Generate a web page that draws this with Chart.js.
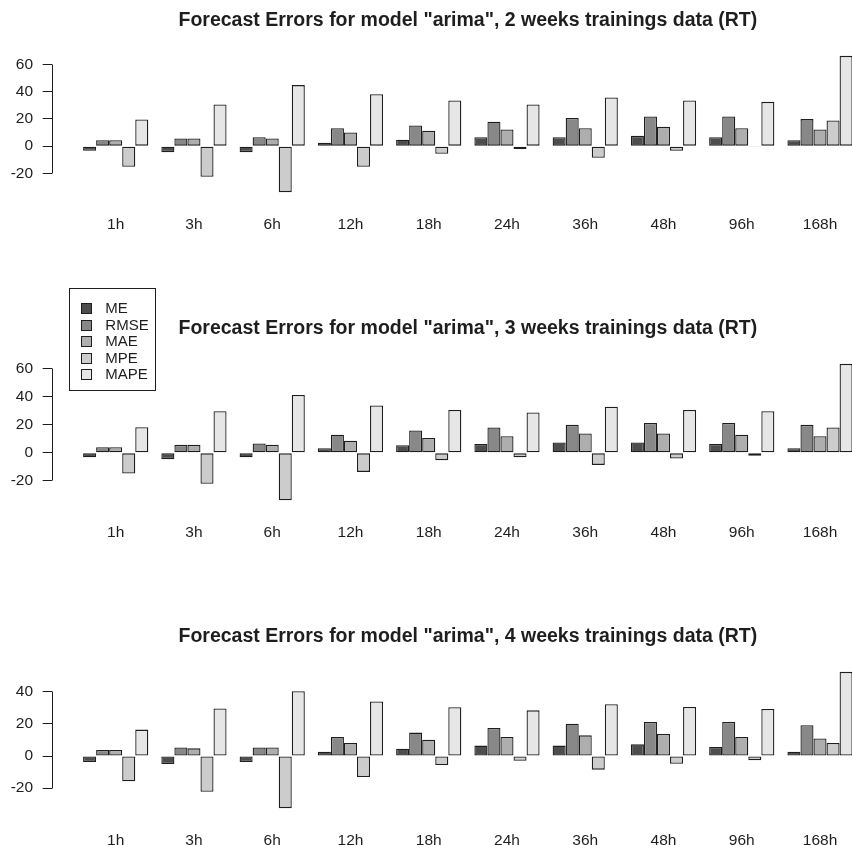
<!DOCTYPE html>
<html>
<head>
<meta charset="utf-8">
<title>Forecast Errors - arima</title>
<script src="https://cdn.jsdelivr.net/npm/chart.js@4.4.1/dist/chart.umd.min.js"></script>
<style>
  html, body { margin: 0; padding: 0; background: #fff; }
  body { width: 852px; height: 845px; overflow: hidden; position: relative; }
  canvas { position: absolute; left: 0; }
</style>
</head>
<body>
<canvas id="c2w" width="884" height="338" style="top:-30px"></canvas>
<canvas id="c3w" width="884" height="338" style="top:278px"></canvas>
<canvas id="c4w" width="884" height="338" style="top:586px"></canvas>
<script>
// forecast horizons and error measures
const HORIZONS = ['1h', '3h', '6h', '12h', '18h', '24h', '36h', '48h', '96h', '168h'];
const MEASURES = ['ME', 'RMSE', 'MAE', 'MPE', 'MAPE'];

// one row per measure (same order as MEASURES), one column per horizon
const ERR_2W = [
  [-3.4, -4.4, -4.4, 2.5, 4.7, 6.6, 6.6, 7.6, 6.6, 4.4],
  [4.4, 5.6, 6.6, 13.2, 15.2, 17.9, 20.8, 21.8, 21.8, 19.9],
  [4.4, 5.6, 5.6, 10.0, 11.3, 12.3, 13.2, 14.2, 13.2, 12.3],
  [-15.2, -22.5, -33.8, -15.2, -5.6, -2.0, -8.6, -3.4, -0.3, 18.9],
  [19.6, 30.6, 44.9, 38.2, 33.6, 30.6, 35.8, 33.6, 32.6, 66.4]
];
const ERR_3W = [
  [-3.1, -4.5, -3.1, 3.3, 5.5, 6.4, 7.4, 7.4, 6.4, 3.3],
  [4.0, 5.7, 6.7, 12.9, 16.0, 18.1, 20.0, 21.4, 21.4, 20.0],
  [4.0, 5.7, 5.7, 8.6, 10.7, 11.9, 13.8, 13.8, 12.9, 11.9],
  [-14.8, -22.1, -33.8, -13.6, -5.2, -3.1, -8.6, -4.0, -2.1, 18.1],
  [18.3, 29.8, 41.4, 33.8, 30.7, 28.8, 32.9, 30.7, 29.8, 63.6]
];
const ERR_4W = [
  [-3.75, -5.0, -3.75, 2.7, 4.6, 6.5, 6.5, 7.3, 5.6, 2.7],
  [3.75, 5.4, 5.4, 11.9, 14.6, 17.5, 20.2, 21.3, 21.3, 19.2],
  [3.75, 4.8, 5.4, 8.1, 10.2, 11.9, 12.9, 13.8, 11.9, 11.0],
  [-15.8, -22.3, -32.5, -13.1, -5.6, -2.9, -8.5, -4.8, -2.7, 8.1],
  [16.5, 29.6, 40.4, 34.0, 30.4, 28.5, 32.3, 30.6, 29.4, 52.5]
];

const TICKS_2W = [-20, 0, 20, 40, 60];
const TICKS_3W = [-20, 0, 20, 40, 60];
const TICKS_4W = [-20, 0, 20, 40];

const GREYS = ['#4d4d4d', '#888888', '#aeaeae', '#cccccc', '#e6e6e6'];
const INK = '#1e1e1e';
const FONT = '"Liberation Sans", Arial, sans-serif';

// barplot layout: 5 bars per group plus one bar of space in front of each group
const GROUP = MEASURES.length + 1;
const xLo = 1, xHi = GROUP * HORIZONS.length;
const xExt = (xHi - xLo) * 0.04;
const groupMid = i => GROUP * i + GROUP / 2 + 0.5;

const px = v => Math.round(v - 0.5) + 0.5;

// y axis line only between first and last tick
const axisSpan = {
  id: 'axisSpan',
  afterDraw(chart) {
    const y = chart.scales.y, ctx = chart.ctx, t = y.ticks;
    const x = px(y.right);
    ctx.save();
    ctx.strokeStyle = INK;
    ctx.lineWidth = 1;
    ctx.beginPath();
    ctx.moveTo(x, px(y.getPixelForValue(t[0].value)));
    ctx.lineTo(x, px(y.getPixelForValue(t[t.length - 1].value)));
    ctx.stroke();
    ctx.restore();
  }
};

// boxed legend in the top left corner
const boxLegend = {
  id: 'boxLegend',
  afterDraw(chart, args, opts) {
    if (!opts.show) return;
    const ctx = chart.ctx, area = chart.chartArea;
    const left = area.left + 17.4, top = area.top - 70;
    const w = 86, h = 102, row = 16.5;
    ctx.save();
    ctx.fillStyle = '#fff';
    ctx.fillRect(left, top, w, h);
    ctx.strokeStyle = INK;
    ctx.lineWidth = 1;
    ctx.strokeRect(px(left), px(top), w, h);
    ctx.font = '15px ' + FONT;
    ctx.textBaseline = 'middle';
    chart.data.datasets.forEach((ds, i) => {
      const cy = top + 20.3 + i * row;
      ctx.fillStyle = ds.backgroundColor;
      ctx.fillRect(px(left + 11.6), px(cy - 5), 10, 10);
      ctx.strokeRect(px(left + 11.6), px(cy - 5), 10, 10);
      ctx.fillStyle = INK;
      ctx.fillText(ds.label, left + 35.6, cy + 0.5);
    });
    ctx.restore();
  }
};

function makeChart(id, weeks, rows, yTicks, withLegend) {
  const all = rows.flat();
  const lo = Math.min(...all), hi = Math.max(...all);
  const ext = (hi - lo) * 0.04;
  return new Chart(document.getElementById(id), {
    type: 'bar',
    data: {
      labels: HORIZONS.map((_, i) => groupMid(i)),
      datasets: MEASURES.map((m, k) => ({
        label: m,
        data: rows[k],
        backgroundColor: GREYS[k],
        borderColor: INK,
        borderWidth: 1.3,
        borderSkipped: false,
        categoryPercentage: MEASURES.length / GROUP,
        barPercentage: 1
      }))
    },
    plugins: [axisSpan, boxLegend],
    options: {
      responsive: false,
      devicePixelRatio: 1,
      animation: false,
      events: [],
      layout: { padding: { top: 30, left: 0, right: 0.6, bottom: 0 } },
      plugins: {
        legend: { display: false },
        tooltip: { enabled: false },
        boxLegend: { show: withLegend },
        title: {
          display: true,
          fullSize: false,
          text: 'Forecast Errors for model "arima", ' + weeks + ' weeks trainings data (RT)',
          color: INK,
          font: { family: FONT, size: 19.5, weight: 'bold' },
          padding: { top: 8.5, bottom: 18.5 }
        }
      },
      scales: {
        x: {
          type: 'linear',
          offset: false,
          min: xLo - xExt,
          max: xHi + xExt,
          grid: { display: false, offset: false },
          border: { display: false },
          afterBuildTicks: s => { s.ticks = HORIZONS.map((_, i) => ({ value: groupMid(i) })); },
          ticks: {
            autoSkip: false,
            maxRotation: 0,
            padding: 10,
            color: INK,
            font: { family: FONT, size: 15.5 },
            callback: (v, i) => HORIZONS[i]
          },
          afterFit: s => { s.height = 110.4; }
        },
        y: {
          min: lo - ext,
          max: hi + ext,
          afterBuildTicks: s => { s.ticks = yTicks.map(v => ({ value: v })); },
          grid: { drawOnChartArea: false, drawTicks: true, tickLength: 9.6, color: INK, lineWidth: 1 },
          border: { display: false },
          ticks: { padding: 9.6, color: INK, font: { family: FONT, size: 15.5 } },
          afterFit: s => { s.width = 52.3; }
        }
      }
    }
  });
}

makeChart('c2w', 2, ERR_2W, TICKS_2W, false);
makeChart('c3w', 3, ERR_3W, TICKS_3W, true);
makeChart('c4w', 4, ERR_4W, TICKS_4W, false);
</script>
</body>
</html>
